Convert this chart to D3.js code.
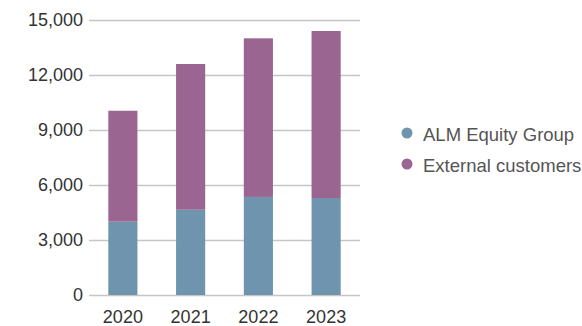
<!DOCTYPE html>
<html>
<head>
<meta charset="utf-8">
<script src="https://cdn.jsdelivr.net/npm/d3@7"></script>
<style>
  body { margin: 0; background: #fff; }
  svg { font-family: "Liberation Sans", Arial, sans-serif; }
</style>
</head>
<body>
<div id="chart"></div>
<script>
const years = ['2020', '2021', '2022', '2023'];
const almEquity = [4000, 4650, 5350, 5290];
const external = [6050, 7950, 8650, 9110];
const yTicks = [0, 3000, 6000, 9000, 12000, 15000];
const seriesNames = ['ALM Equity Group', 'External customers'];
const colors = ['#6f95ae', '#9a6590'];

const width = 582, height = 326;
const margin = { top: 20, right: 222, bottom: 31, left: 89 };
const innerW = width - margin.left - margin.right;
const innerH = height - margin.top - margin.bottom;

const svg = d3.select('#chart')
  .append('svg')
  .attr('width', width)
  .attr('height', height);

const g = svg.append('g')
  .attr('transform', 'translate(' + margin.left + ',' + margin.top + ')');

const x = d3.scaleBand()
  .domain(years)
  .range([0, innerW])
  .paddingInner(0.57)
  .paddingOuter(0.285);

const y = d3.scaleLinear()
  .domain([0, 15000])
  .range([innerH, 0]);

// grid lines
g.append('g')
  .selectAll('line')
  .data(yTicks)
  .enter().append('line')
  .attr('x1', 0)
  .attr('x2', innerW)
  .attr('y1', d => y(d) + 0.5)
  .attr('y2', d => y(d) + 0.5)
  .attr('stroke', '#c6c6c6')
  .attr('stroke-width', 1.5);

// stacked data
const rows = years.map((yr, i) => ({ year: yr, alm: almEquity[i], ext: external[i] }));
const stack = d3.stack().keys(['alm', 'ext'])(rows);

g.selectAll('.layer')
  .data(stack)
  .enter().append('g')
  .attr('fill', (d, i) => colors[i])
  .selectAll('rect')
  .data(d => d)
  .enter().append('rect')
  .attr('x', d => x(d.data.year))
  .attr('width', x.bandwidth())
  .attr('y', d => y(d[1]))
  .attr('height', d => y(d[0]) - y(d[1]));

// y axis
const yAxis = g.append('g')
  .call(d3.axisLeft(y).tickValues(yTicks).tickFormat(d3.format(',')).tickSize(0).tickPadding(6));
yAxis.select('.domain').remove();
yAxis.selectAll('text')
  .attr('fill', '#333')
  .style('font-size', '18px');

// x axis
const xAxis = g.append('g')
  .attr('transform', 'translate(0,' + innerH + ')')
  .call(d3.axisBottom(x).tickSize(0).tickPadding(15));
xAxis.select('.domain').remove();
xAxis.selectAll('text')
  .attr('fill', '#333')
  .style('font-size', '18px');

// legend
const legend = svg.append('g')
  .attr('transform', 'translate(407,133)');

const item = legend.selectAll('g')
  .data(seriesNames)
  .enter().append('g')
  .attr('transform', (d, i) => 'translate(0,' + i * 31 + ')');

item.append('circle')
  .attr('r', 5.5)
  .attr('fill', (d, i) => colors[i]);

item.append('text')
  .attr('x', 16)
  .attr('y', 8.4)
  .attr('fill', '#555')
  .style('font-size', '18.5px')
  .text(d => d);
</script>
</body>
</html>
